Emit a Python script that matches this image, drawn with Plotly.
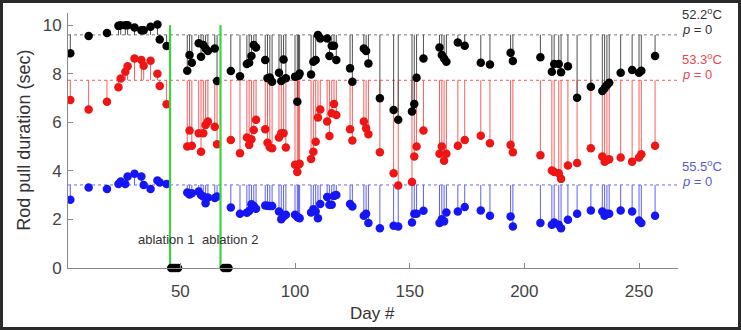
import plotly.graph_objects as go

days = [2, 10, 18, 23, 24, 26, 27, 30, 33, 34, 37, 40, 41, 44,
        53, 54, 55, 58, 59, 60, 61, 62, 65, 66, 72, 76, 79, 80, 81, 82, 83, 87, 88, 89, 90,
        93, 94, 95, 96, 100, 101, 101.5, 102, 107, 108, 109, 110, 111, 114, 115, 116, 117, 118,
        124, 125, 130, 131, 132, 137,
        143, 145, 151, 152, 153, 156, 163, 164, 165, 166, 171, 174, 181, 185, 194, 195, 207,
        212, 213, 215, 216, 219, 223,
        229, 234, 235, 236, 237, 242, 247, 250, 251, 257]

black_vals = [8.84, 9.55, 9.68, 9.97, 10.0, 10.0, 10.0, 9.9, 9.79, 9.79, 9.93, 10.03, 9.41, 9.14,
              8.12, 8.77, 8.45, 9.25, 8.7, 9.18, 9.04, 8.94, 9.04, 7.7, 8.11, 7.9, 8.4, 8.45, 8.73, 9.18, 9.08, 8.56, 7.81, 7.84, 7.67,
              8.04, 7.7, 8.59, 7.81, 7.88, 6.85, 7.92, 8.01, 7.97, 8.49, 8.56, 9.59, 9.45, 9.45, 8.73, 9.15, 9.15, 8.56,
              8.22, 7.67, 9.04, 8.94, 8.42, 6.99,
              6.51, 6.1, 6.44, 6.75, 7.83, 8.63, 9.08, 8.77, 8.63, 8.49, 9.29, 9.15, 8.45, 8.38, 8.86, 8.52, 8.68,
              8.08, 8.4, 8.4, 8.06, 8.31, 7.01,
              7.46, 7.29, 7.4, 7.53, 7.63, 8.04, 8.15, 8.04, 8.12, 8.73]

red_vals = [6.92, 6.53, 6.85, 7.44, 7.8, 8.08, 8.31, 8.63, 8.56, 8.33, 8.53, 8.0, 7.49, 6.74,
            5.0, 5.66, 5.03, 5.55, 4.79, 5.55, 5.89, 6.03, 5.82, 5.1, 5.27, 4.73, 5.37, 5.07, 5.3, 5.68, 6.1, 5.71, 5.16, 4.97, 4.93,
            5.37, 5.55, 5.55, 4.96, 4.25, 3.95, 4.25, 4.29, 4.49, 4.79, 5.2, 6.2, 6.53, 6.03, 5.44, 6.37, 6.75, 6.3,
            5.71, 5.25, 6.03, 5.75, 5.51, 4.77,
            3.9, 3.4, 3.54, 4.59, 5.0, 5.66, 4.7, 5.0, 4.42, 4.7, 5.03, 5.27, 5.45, 5.14, 5.07, 4.77, 4.64,
            4.01, 3.95, 3.9, 3.67, 4.22, 4.32,
            4.93, 4.59, 4.38, 4.45, 4.48, 4.55, 4.38, 4.55, 4.68, 5.03]

blue_vals = [2.81, 3.31, 3.25, 3.46, 3.56, 3.46, 3.77, 3.88, 3.77, 3.42, 3.25, 3.6, 3.52, 3.46,
             3.11, 3.03, 3.08, 3.15, 3.01, 2.94, 2.67, 2.9, 2.88, 2.94, 2.49, 2.23, 2.28, 2.35, 2.62, 2.55, 2.44, 2.57, 2.56, 2.55, 2.55,
             2.33, 2.01, 2.12, 2.19, 2.19, 2.1, 2.08, 2.05, 2.29, 2.42, 2.33, 2.05, 2.64, 2.92, 2.6, 2.6, 2.97, 3.01,
             2.64, 2.53, 2.15, 2.23, 1.85, 1.64,
             1.74, 1.71, 1.87, 2.23, 2.23, 2.36, 1.85, 2.01, 1.92, 2.29, 2.33, 2.51, 2.37, 2.15, 2.12, 1.71, 1.85,
             1.78, 1.87, 1.78, 1.64, 1.99, 2.23,
             2.37, 2.33, 2.15, 2.23, 2.23, 2.37, 2.33, 1.96, 1.85, 2.15]

zero_days = [46, 47, 48, 49, 69, 70, 71]
zero_vals = [0, 0, 0, 0, 0, 0, 0]

baselines = {"black": 9.6, "red": 7.73, "blue": 3.42}
ablation_days = [45.5, 67.5]
ablation_labels = ["ablation 1", "ablation 2"]
ablation_label_days = [43.9, 71.5]
temp_labels = ["52.2<sup>o</sup>C", "53.3<sup>o</sup>C", "55.5<sup>o</sup>C"]

series = [
    ("blue", blue_vals, "#1515f5", "#5f5ff5", "#6b6bea"),
    ("red", red_vals, "#f01515", "#f26060", "#f05a5a"),
    ("black", black_vals, "#000000", "#505050", "#777777"),
]

fig = go.Figure()
XR = [1, 267]

for name, vals, mc, sc, bc in series:
    base = baselines[name]
    fig.add_trace(go.Scatter(x=XR, y=[base, base], mode="lines",
                             line=dict(color=bc, width=1, dash="dot"), hoverinfo="skip"))

for name, vals, mc, sc, bc in series:
    base = baselines[name]
    xs, ys = [], []
    for d, v in zip(days, vals):
        xs += [d, d, None]
        ys += [base, v, None]
    fig.add_trace(go.Scatter(x=xs, y=ys, mode="lines", line=dict(color=sc, width=1),
                             hoverinfo="skip"))
    fig.add_trace(go.Scatter(x=days, y=vals, mode="markers",
                             marker=dict(color=mc, size=8.5, line=dict(width=0))))

for d in ablation_days:
    fig.add_trace(go.Scatter(x=[d, d], y=[0, 10], mode="lines",
                             line=dict(color="#3ed23e", width=2.2), hoverinfo="skip"))

fig.add_trace(go.Scatter(x=zero_days, y=zero_vals, mode="markers", cliponaxis=False,
                         marker=dict(color="#000000", size=8.5, line=dict(width=0))))

L, R, T, B = 68, 63, 13, 62
W, H = 741, 330
pw, ph = W - L - R, H - T - B

def py(ypx):
    return (H - B - ypx) / ph

FONT = "Liberation Sans, Arial"
ann = []
for lab, d in zip(ablation_labels, ablation_label_days):
    ann.append(dict(x=d, y=1.16, xref="x", yref="y", text=lab, showarrow=False,
                    xanchor="center", yanchor="middle",
                    font=dict(size=13, color="#333333", family=FONT)))

txt_x = (680 - L) / pw
label_specs = [(temp_labels[0], 14, 29.3, "#333333"),
               (temp_labels[1], 59.3, 74, "#ec4650"),
               (temp_labels[2], 165.7, 181, "#5a5ad8")]
for lab, y1, y2, c in label_specs:
    ann.append(dict(x=txt_x, y=py(y1), xref="paper", yref="paper", text=lab, showarrow=False,
                    xanchor="left", yanchor="middle",
                    font=dict(size=13, color=c, family=FONT)))
    ann.append(dict(x=txt_x, y=py(y2), xref="paper", yref="paper", text="<i>p</i> = 0",
                    showarrow=False, xanchor="left", yanchor="middle",
                    font=dict(size=13, color=c, family=FONT)))

ann.append(dict(x=(372 - L) / pw, y=py(313), xref="paper", yref="paper", text="Day #",
                showarrow=False, xanchor="center", yanchor="middle",
                font=dict(size=17, color="#333333", family=FONT)))
ann.append(dict(x=(23.7 - L) / pw, y=py(140), xref="paper", yref="paper",
                text="Rod pull duration (sec)", textangle=-90, showarrow=False,
                xanchor="center", yanchor="middle",
                font=dict(size=18, color="#333333", family=FONT)))

fig.update_layout(
    width=W, height=H, margin=dict(l=L, r=R, t=T, b=B),
    paper_bgcolor="white", plot_bgcolor="white", showlegend=False,
    annotations=ann,
    font=dict(family=FONT, color="#333333"),
    shapes=[dict(type="rect", xref="paper", yref="paper",
                 x0=(-L + 1.5) / pw, x1=1 + (R - 1.5) / pw,
                 y0=(-B + 1.5) / ph, y1=1 + (T - 1.5) / ph,
                 line=dict(color="#2a2a2a", width=3))],
)
fig.update_xaxes(range=XR, showgrid=False, zeroline=False, showline=True, linecolor="#8a8a8a",
                 linewidth=1, ticks="inside", ticklen=5, tickcolor="#8a8a8a",
                 tickvals=[50, 100, 150, 200, 250], ticklabelstandoff=8,
                 tickfont=dict(size=17, color="#444444"))
fig.update_yaxes(range=[0, 10.5], showgrid=False, zeroline=False, showline=True, linecolor="#8a8a8a",
                 linewidth=1, ticks="inside", ticklen=5, tickcolor="#8a8a8a",
                 tickvals=[0, 2, 4, 6, 8, 10], ticklabelstandoff=2,
                 tickfont=dict(size=17, color="#444444"))

fig.write_html("out.html")
